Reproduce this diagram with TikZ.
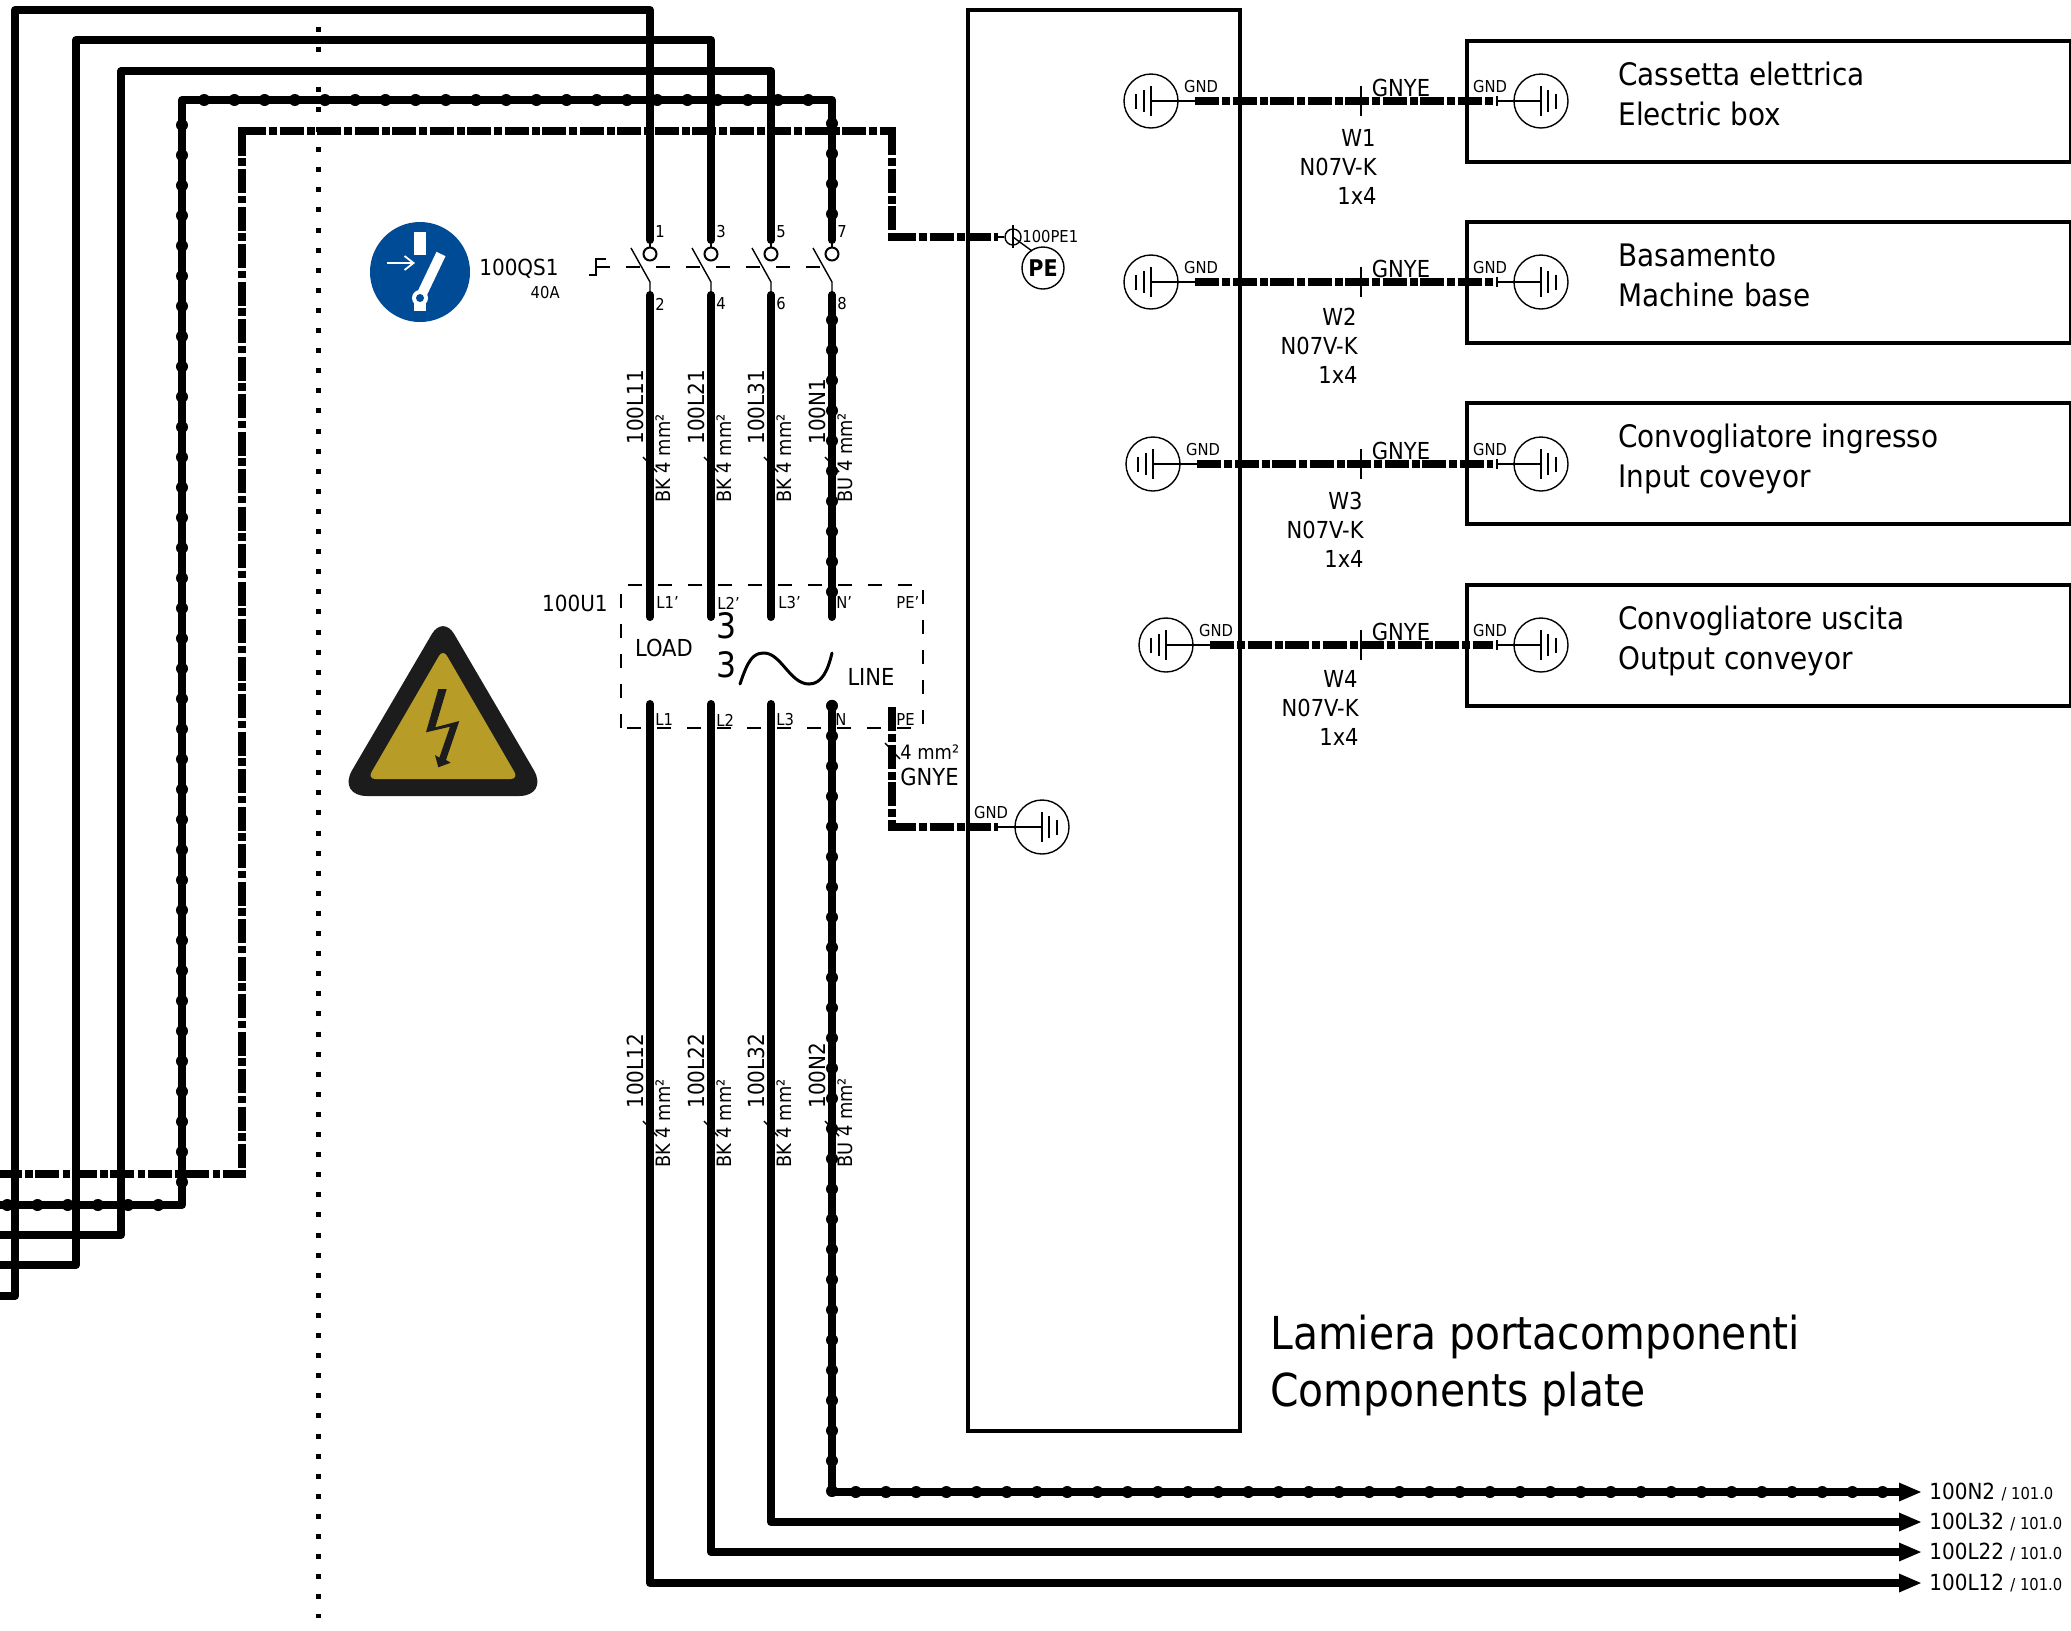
\documentclass[tikz,border=0pt]{standalone}
\usepackage{fontspec}
\setmainfont{DejaVu Sans Condensed}
\usetikzlibrary{arrows.meta,positioning}
\definecolor{signblue}{RGB}{0,75,150}
\definecolor{signdark}{RGB}{28,28,28}
\definecolor{signgold}{RGB}{184,156,40}
\tikzset{
  wire/.style={line width=4pt,line cap=round,line join=round},
  lead/.style={-{Triangle[length=11.5pt,width=8.5pt]}},
  ndots/.style={line width=6pt,line cap=round,dash pattern=on 0pt off 15.1pt,dash phase=#1},
  pewire/.style={line width=4pt,dash pattern=on 12pt off 1.7pt on 3.8pt off 1.25pt,dash phase=#1},
  pewire/.default=0pt,
  hair/.style={line width=.7pt},
  linkdash/.style={line width=.8pt,dash pattern=on 7pt off 8pt},
  big/.style={inner sep=0pt,font=\fontsize{15.5}{18}\selectfont},
  huge/.style={inner sep=0pt,font=\fontsize{22.7}{26}\selectfont},
  lbl/.style={inner sep=0pt,font=\fontsize{11.1}{13}\selectfont},
  tag/.style={inner sep=0pt,font=\fontsize{11.7}{13}\selectfont},
  mini/.style={inner sep=0pt,font=\fontsize{8.2}{10}\selectfont},
  cable/.style={inner sep=0pt,font=\fontsize{9.9}{11}\selectfont},
  earth/.pic={
    \draw[hair] (0,0) circle (27);
    \draw[hair] (0,-15) -- (0,15) (7,-11) -- (7,11) (15,-7.5) -- (15,7.5);
  },
}
\begin{document}
\begin{tikzpicture}[x=.5pt,y=-.5pt]
  \useasboundingbox (0,0) rectangle (2071,1630);

  \draw[line width=2.5pt,dash pattern=on 2.5pt off 7.55pt,dash phase=-3.2pt] (318,0) -- (318,1618);

  \draw[line width=2pt] (968,10) rectangle (1240,1431);
  \node[huge,anchor=base west] (plate1) at (1270,1349) {Lamiera portacomponenti};
  \node[huge,anchor=base west] (plate2) at (1270,1406) {Components plate};

  \foreach \x/\nam/\col/\num [count=\i] in {650/L1/BK/1,711/L2/BK/3,771/L3/BK/5,832/N/BU/7}{
    \pgfmathtruncatemacro\nxt{\num+1}
    \coordinate (t\i) at (\x,240);
    \coordinate (k\i) at (\x,295);
    \coordinate (p\i) at (\x,617);
    \coordinate (b\i) at (\x,704);
    \node[draw,circle,line width=1pt,minimum size=6.5pt,inner sep=0pt] (c\i) at (\x,254) {};
    \draw[hair] (t\i) -- (c\i);
    \draw[hair] (\x-19,248) -- (\x,282) -- (k\i);
    \draw[wire] (k\i) -- (p\i);
    \node[mini,anchor=west] (nt\i) at (\x+5,232) {\num};
    \node[mini,anchor=west] (nb\i) at (\x+5,304) {\nxt};
    \node[lbl,rotate=90,anchor=west] (ua\i) at (\x-15,445) {100\nam1};
    \node[cable,rotate=90,anchor=west] (ub\i) at (\x+13,503) {\col\ 4 mm²};
    \node[lbl,rotate=90,anchor=west] (la\i) at (\x-15,1109) {100\nam2};
    \node[cable,rotate=90,anchor=west] (lb\i) at (\x+13,1168) {\col\ 4 mm²};
    \draw[hair] (\x-7,457) -- (\x+7,472);
    \draw[hair] (\x-7,1121) -- (\x+7,1136);
  }

  \foreach \i/\yb/\xl/\yt in {1/1296/15/10,2/1265/76/40,3/1235/121/71,4/1205/182/100}{
    \coordinate (src\i) at (0,\yb);
    \draw[wire] (src\i) -| (\xl,\yt) -| (t\i);
  }
  \foreach \i/\nam/\yr in {1/L12/1583,2/L22/1552,3/L32/1522,4/N2/1492}{
    \coordinate (arr\i) at (1922,\yr);
    \draw[wire,lead] (b\i) |- (arr\i);
    \node[lbl,right=3.5pt of arr\i] (out\i) {100\nam\ {\fontsize{8.2}{10}\selectfont / 101.0}};
  }

  \coordinate (n1) at (182,1205);
  \coordinate (n2) at (182,100);
  \coordinate (n3) at (832,1492);
  \coordinate (n4) at (1885,1492);
  \draw[ndots=11.45pt] (src4) -- (n1);
  \draw[ndots=3.6pt] (n1) -- (n2);
  \draw[ndots=4pt] (n2) -- (832,100);
  \draw[ndots=3.4pt] (832,100) -- (t4);
  \draw[ndots=2.6pt] (k4) -- (p4);
  \draw[ndots=14.2pt] (b4) -- (n3);
  \draw[ndots=3.2pt] (n3) -- (n4);

  \coordinate (pa) at (0,1174);
  \coordinate (pb) at (242,1174);
  \coordinate (pc) at (242,131);
  \coordinate (pd) at (892,131);
  \coordinate (pe) at (892,237);
  \coordinate (pf) at (998,237);
  \draw[pewire=1.1pt] (pa) -- (pb);
  \draw[pewire=15.75pt] (pb) -- (pc);
  \draw[pewire] (pc) -- (pd);
  \draw[pewire] (pd) -- (pe);
  \draw[pewire] (pe) -- (pf);
  \foreach \c in {pb,pc,pd,pe}
    \fill (\c) ++(-4,-4) rectangle ++(8,8);

  \node[draw,circle,hair,minimum size=8pt,inner sep=0pt] (pe1) at (1013,237) {};
  \draw[hair] (1013,225) -- (1013,248);
  \node[mini,anchor=west] (pe1txt) at (1022,237) {100PE1};
  \draw[hair] (pf) -- (pe1);
  \draw[hair] (pe1.center) -- (1032,251);
  \node[draw,circle,hair,minimum size=21pt,inner sep=0pt,font=\fontsize{11.5}{13}\selectfont\bfseries] (pebub) at (1043,268) {PE};

  \draw[linkdash] (596,267) -- (826,267);
  \draw[hair] (589,275) -- (596,275) -- (596,259) -- (606,259);
  \node[lbl,anchor=east] (qs) at (559,269) {100QS1};
  \node[mini,anchor=east] (qsa) at (560,293) {40A};

  \draw[linkdash] (621,728) -- (621,585) -- (923,585) -- (923,728) -- cycle;
  \node[lbl,anchor=east] (u1) at (608,603) {100U1};
  \foreach \x/\t in {656/L1',717/L2',778/L3',836/N',896/PE'}
    \node[mini,anchor=west] (\t up) at (\x,603) {\t};
  \foreach \x/\t in {655/L1,716/L2,776/L3,835/N,896/PE}
    \node[mini,anchor=west] (\t lo) at (\x,720) {\t};
  \node[tag] (load) at (664,648) {LOAD};
  \node[tag] (line) at (871,677) {LINE};
  \node[inner sep=0pt,font=\fontsize{17.5}{20}\selectfont] (three1) at (727,626) {3};
  \node[inner sep=0pt,font=\fontsize{17.5}{20}\selectfont] (three2) at (727,665) {3};
  \draw[line width=1.5pt,line cap=round] (740,684) .. controls (748,660) and (753,653) .. (764,653) .. controls (781,653) and (790,684) .. (809,684) .. controls (822,684) and (828,670) .. (832,653);

  \coordinate (q1) at (892,707);
  \coordinate (q2) at (892,827);
  \coordinate (q3) at (998,827);
  \draw[pewire] (q1) -- (q2);
  \draw[pewire] (q2) -- (q3);
  \fill (q2) ++(-4,-4) rectangle ++(8,8);
  \draw[hair] (885,743) -- (900,759);
  \node[cable,anchor=west] (pemm) at (900,752) {4 mm²};
  \node[tag,anchor=west] (pecol) at (900,777) {GNYE};
  \coordinate (g0) at (1042,827);
  \pic at (g0) {earth};
  \draw[hair] (q3) -- (g0);
  \node[mini] (gnd0) at (991,813) {GND};

  \foreach \y/\top/\gx/\wx/\wr/\wy/\nam/\ita/\eng [count=\i] in {
      101/41/1151/1195/1376/138/W1/Cassetta elettrica/Electric box,
      282/222/1151/1195/1357/317/W2/Basamento/Machine base,
      464/403/1153/1197/1363/501/W3/Convogliatore ingresso/Input coveyor,
      645/585/1166/1210/1358/679/W4/Convogliatore uscita/Output conveyor}{
    \draw[line width=2pt] (1467,\top) rectangle (2071,\top+121);
    \coordinate (gl\i) at (\gx,\y);
    \coordinate (wl\i) at (\wx,\y);
    \coordinate (wr\i) at (1493,\y);
    \coordinate (gr\i) at (1541,\y);
    \pic[xscale=-1] at (gl\i) {earth};
    \pic at (gr\i) {earth};
    \draw[hair] (gl\i) -- (wl\i);
    \draw[pewire] (wl\i) -- (wr\i);
    \draw[hair] (1497,\y) -- (gr\i);
    \draw[hair] (1497,\y-5) -- (1497,\y+5);
    \draw[hair] (1361,\y-15) -- (1361,\y+15);
    \node[mini] (gnda\i) at (\wx+6,\y-14) {GND};
    \node[mini] (gndb\i) at (1490,\y-14) {GND};
    \node[tag] (col\i) at (1401,\y-13) {GNYE};
    \node[tag,anchor=east] (cw\i) at (\wr,\wy) {\nam};
    \node[tag,anchor=east] (cn\i) at (\wr+1,\wy+29) {N07V-K};
    \node[tag,anchor=east] (cs\i) at (\wr+1,\wy+58) {1x4};
    \node[big,anchor=base west] (ita\i) at (1618,\top+44) {\ita};
    \node[big,anchor=base west] (eng\i) at (1618,\top+84) {\eng};
  }

  \fill[signblue] (420,272) circle (50);
  \fill[white] (414,232) rectangle (426,255);
  \draw[white,line width=5pt] (420,298) -- (441,254);
  \fill[white] (420,298) circle (8);
  \fill[white] (414,298) rectangle (426,311);
  \fill[signblue] (420,298) circle (4);
  \draw[white,line width=.9pt,-{Straight Barb[length=4.5pt,width=7pt]}] (387,263) -- (415,263);

  \fill[signdark] (443,796) [rounded corners=15pt] -- (337,796) [rounded corners=11pt] -- (443,615) [rounded corners=15pt] -- (549,796) [sharp corners] -- cycle;
  \fill[signgold,rounded corners=4pt] (443,649) -- (367.5,779) -- (518.5,779) -- cycle;
  \fill[signdark] (438.3,689) -- (446.7,689) -- (435.3,727.3) -- (459.3,721) -- (446,760) -- (450.7,762.7) -- (438.3,767.3) -- (435,755) -- (439.3,757.7) -- (450,726.7) -- (426,732.3) -- cycle;
\end{tikzpicture}
\end{document}
